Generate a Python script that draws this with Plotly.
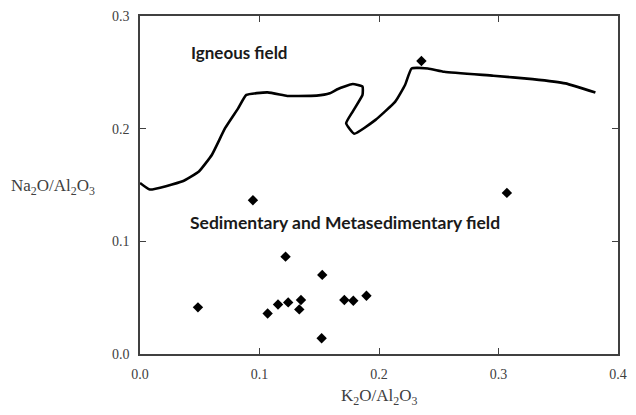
import plotly.graph_objects as go

# Sample points
k2o_al2o3 = [0.2355, 0.307, 0.0945, 0.0485, 0.1068, 0.1155, 0.124, 0.1218, 0.1347, 0.1333,
             0.1525, 0.152, 0.171, 0.1785, 0.1895]
na2o_al2o3 = [0.260, 0.143, 0.1365, 0.0414, 0.036, 0.044, 0.0458, 0.0864, 0.0479, 0.0396,
              0.0702, 0.014, 0.0479, 0.0473, 0.0517]

# Field boundary curve
curve_x = [0.0, 0.0082, 0.0356, 0.0493, 0.0602, 0.0712, 0.0821, 0.089, 0.1068, 0.1232, 0.1314,
           0.1478, 0.1588, 0.1657, 0.178, 0.1862, 0.1862, 0.178, 0.1725, 0.1793, 0.1971, 0.2136,
           0.2218, 0.2273, 0.2409, 0.2546, 0.2957, 0.3285, 0.356, 0.3811]
curve_y = [0.1518, 0.146, 0.1533, 0.162, 0.1769, 0.2004, 0.218, 0.230, 0.2322, 0.229, 0.229,
           0.2293, 0.2314, 0.2352, 0.2396, 0.2373, 0.230, 0.2152, 0.2048, 0.1955, 0.2078, 0.224,
           0.2388, 0.2534, 0.2534, 0.2505, 0.247, 0.244, 0.2402, 0.232]

x_ticks = [0.0, 0.1, 0.2, 0.3, 0.4]
y_ticks = [0.0, 0.1, 0.2, 0.3]

fig = go.Figure()
fig.add_trace(go.Scatter(x=curve_x, y=curve_y, mode="lines",
                         line=dict(color="black", width=2.6, shape="spline", smoothing=0.4),
                         showlegend=False, hoverinfo="skip"))
fig.add_trace(go.Scatter(x=k2o_al2o3, y=na2o_al2o3, mode="markers",
                         marker=dict(symbol="diamond", size=8, color="black"),
                         showlegend=False))

axis_common = dict(showgrid=False, zeroline=False, showline=True, linecolor="#404040",
                   linewidth=1.5, mirror="ticks", ticks="inside", ticklen=6,
                   tickcolor="#404040", tickwidth=1, ticklabelstandoff=6,
                   tickfont=dict(family="Liberation Serif", size=14, color="#404040"))

fig.update_xaxes(range=[0, 0.4], tickvals=x_ticks, ticktext=[f"{v:.1f}" for v in x_ticks],
                 **axis_common)
fig.update_yaxes(range=[0, 0.3], tickvals=y_ticks, ticktext=[f"{v:.1f}" for v in y_ticks],
                 **axis_common)

fig.add_annotation(text="Igneous field", x=0.041, y=0.268, xref="x", yref="y",
                   xanchor="left", showarrow=False,
                   font=dict(family="Lato", size=17, color="#1a1a1a", weight="bold"))
fig.add_annotation(text="Sedimentary and Metasedimentary field", x=0.040, y=0.117,
                   xref="x", yref="y", xanchor="left", showarrow=False,
                   font=dict(family="Lato", size=17.5, color="#1a1a1a", weight="bold"))

fig.add_annotation(text="Na<sub>2</sub>O/Al<sub>2</sub>O<sub>3</sub>", x=-0.181, y=0.148,
                   xref="paper", yref="y", xanchor="center", showarrow=False,
                   font=dict(family="Liberation Serif", size=17, color="#404040"))
fig.add_annotation(text="K<sub>2</sub>O/Al<sub>2</sub>O<sub>3</sub>", x=0.5, y=-0.128,
                   xref="paper", yref="paper", xanchor="center", showarrow=False,
                   yanchor="middle",
                   font=dict(family="Liberation Serif", size=17, color="#404040"))

fig.update_layout(width=636, height=415, margin=dict(l=140, r=9, t=14, b=61),
                  plot_bgcolor="white", paper_bgcolor="white")

fig.write_html("out.html", config={"displayModeBar": False},
               post_script="document.body.style.margin='0px';")
